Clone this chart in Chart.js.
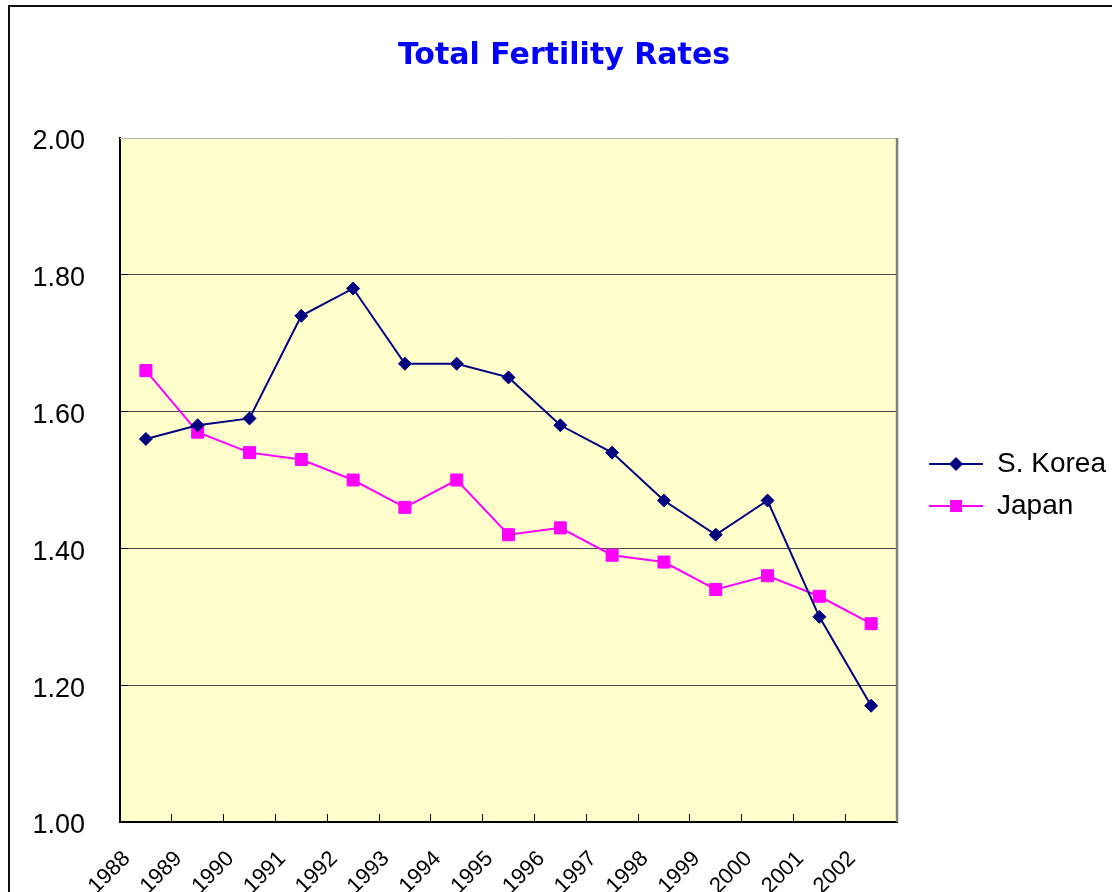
<!DOCTYPE html>
<html>
<head>
<meta charset="utf-8">
<title>Total Fertility Rates</title>
<script src="https://cdn.jsdelivr.net/npm/chart.js@4.4.1/dist/chart.umd.min.js"></script>
<style>
  html, body { margin: 0; padding: 0; background: #fff; overflow: hidden; }
  #frame { position: absolute; left: 8px; top: 5px; width: 1200px; height: 1000px; border: 2px solid #111; box-sizing: border-box; }
  #wrap { position: absolute; left: 12px; top: 0; width: 1128px; height: 892px; }
</style>
</head>
<body>
<div id="frame"></div>
<div id="wrap"><canvas id="chart"></canvas></div>
<script>
/* ── data ── */
const years = ['1988', '1989', '1990', '1991', '1992', '1993', '1994', '1995',
               '1996', '1997', '1998', '1999', '2000', '2001', '2002'];
const korea = [1.56, 1.58, 1.59, 1.74, 1.78, 1.67, 1.67, 1.65, 1.58, 1.54, 1.47, 1.42, 1.47, 1.30, 1.17];
const japan = [1.66, 1.57, 1.54, 1.53, 1.50, 1.46, 1.50, 1.42, 1.43, 1.39, 1.38, 1.34, 1.36, 1.33, 1.29];
const yMin = 1.0, yMax = 2.0, yStep = 0.2;

const NAVY = '#000080';
const MAGENTA = '#FF00FF';

/* ── legend swatch: line with marker in the middle ── */
function swatch(color, shape) {
    const c = document.createElement('canvas');
    c.width = 72; c.height = 18;
    const g = c.getContext('2d');
    g.strokeStyle = color; g.lineWidth = 2;
    g.beginPath(); g.moveTo(18, 9); g.lineTo(72, 9); g.stroke();
    g.fillStyle = color;
    const cx = 45, cy = 9;
    if (shape === 'diamond') {
        g.beginPath();
        g.moveTo(cx - 7, cy); g.lineTo(cx, cy - 7); g.lineTo(cx + 7, cy); g.lineTo(cx, cy + 7);
        g.closePath(); g.fill();
    } else {
        g.fillRect(cx - 6, cy - 6, 12, 12);
    }
    return c;
}
const swatches = [swatch(NAVY, 'diamond'), swatch(MAGENTA, 'square')];

/* ── plot area background + frame ── */
const plotArea = {
    id: 'plotArea',
    beforeDraw(chart) {
        const { ctx, chartArea: a } = chart;
        ctx.save();
        ctx.fillStyle = '#FFFFCC';
        ctx.fillRect(a.left, a.top, a.right - a.left, a.bottom - a.top);
        ctx.restore();
    },
    beforeDatasetsDraw(chart) {
        const { ctx, chartArea: a } = chart;
        ctx.save();
        ctx.strokeStyle = '#b8b8b8'; ctx.lineWidth = 1;
        ctx.beginPath(); ctx.moveTo(a.left, a.top + 0.5); ctx.lineTo(a.right, a.top + 0.5); ctx.stroke();
        ctx.strokeStyle = '#808080'; ctx.lineWidth = 2.5;
        ctx.beginPath(); ctx.moveTo(a.right, a.top); ctx.lineTo(a.right, a.bottom); ctx.stroke();
        ctx.restore();
    }
};

new Chart(document.getElementById('chart'), {
    type: 'line',
    data: {
        labels: years,
        datasets: [
            {
                label: 'S. Korea', data: korea,
                borderColor: NAVY, backgroundColor: NAVY, borderWidth: 2,
                pointStyle: 'rectRot', pointRadius: 6.5, pointHoverRadius: 6.5,
                pointBackgroundColor: NAVY, pointBorderColor: NAVY, pointBorderWidth: 1,
                tension: 0
            },
            {
                label: 'Japan', data: japan,
                borderColor: MAGENTA, backgroundColor: MAGENTA, borderWidth: 2,
                pointStyle: 'rect', pointRadius: 8.5, pointHoverRadius: 8.5,
                pointBackgroundColor: MAGENTA, pointBorderColor: MAGENTA, pointBorderWidth: 1,
                tension: 0
            }
        ]
    },
    options: {
        responsive: true,
        maintainAspectRatio: false,
        animation: false,
        layout: { padding: { left: 0, right: 24, top: 0, bottom: 0 } },
        plugins: {
            title: {
                display: true,
                text: 'Total Fertility Rates',
                color: '#0000FF',
                font: { family: "'DejaVu Sans', sans-serif", size: 30, weight: 'bold', lineHeight: 1.2 },
                padding: { top: 38, bottom: 64 }
            },
            legend: {
                position: 'right',
                align: 'center',
                fullSize: false,
                title: { display: true, text: '', font: { size: 1, lineHeight: 1 }, padding: { top: 9, bottom: 0 } },
                labels: {
                    color: '#000',
                    font: { family: "'Liberation Sans', Arial, sans-serif", size: 28 },
                    usePointStyle: true,
                    pointStyleWidth: 72,
                    padding: 14,
                    generateLabels: chart => Chart.defaults.plugins.legend.labels.generateLabels(chart)
                        .map((item, i) => ({ ...item, pointStyle: swatches[i] }))
                }
            },
            tooltip: { enabled: false }
        },
        scales: {
            x: {
                offset: true,
                grid: { offset: true, drawOnChartArea: false, color: '#000', tickColor: '#000', tickLength: -8 },
                border: { color: '#000', width: 2 },
                ticks: {
                    color: '#000',
                    font: { family: "'Liberation Sans', Arial, sans-serif", size: 22 },
                    minRotation: 45, maxRotation: 45, autoSkip: false,
                    labelOffset: -19, padding: 32
                },
                afterFit(scale) { scale.height = 70; }
            },
            y: {
                min: yMin, max: yMax,
                grid: {
                    color: c => (c.tick && c.tick.value >= yMax ? 'transparent' : '#4a4a4a'),
                    tickColor: '#000', tickLength: -8, lineWidth: 1
                },
                border: { color: '#000', width: 2 },
                ticks: {
                    stepSize: yStep,
                    color: '#000',
                    font: { family: "'Liberation Sans', Arial, sans-serif", size: 27 },
                    padding: 43,
                    labelOffset: 4,
                    callback: v => Number(v).toFixed(2)
                },
                afterFit(scale) { scale.width = 108; }
            }
        }
    },
    plugins: [plotArea]
});
</script>
</body>
</html>
